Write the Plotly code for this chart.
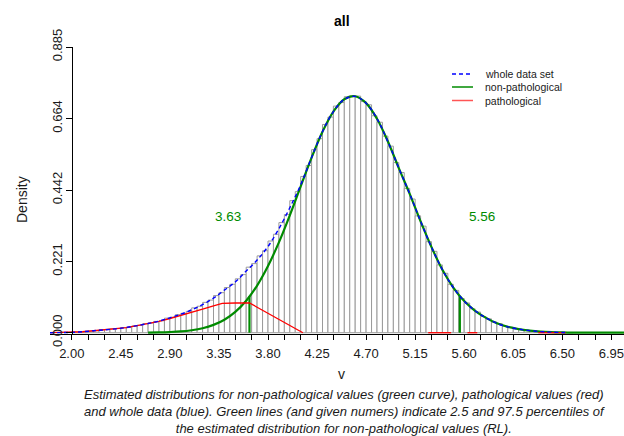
import plotly.graph_objects as go

# ---------------- data ----------------
# histogram (density per 0.05-wide bin, first bin starts at 2.00)
hist_start = 2.0
hist_bin_width = 0.05
hist_density = [
    0.002, 0.002, 0.004, 0.005, 0.006, 0.009, 0.010, 0.012, 0.013, 0.016,
    0.017, 0.021, 0.023, 0.028, 0.030, 0.035, 0.037, 0.045, 0.048, 0.056,
    0.060, 0.066, 0.077, 0.082, 0.094, 0.101, 0.115, 0.124, 0.140, 0.150,
    0.167, 0.180, 0.203, 0.214, 0.238, 0.254, 0.284, 0.305, 0.341, 0.366,
    0.409, 0.437, 0.484, 0.518, 0.567, 0.601, 0.645, 0.668, 0.702, 0.713,
    0.731, 0.734, 0.733, 0.716, 0.706, 0.672, 0.652, 0.609, 0.578, 0.527,
    0.496, 0.447, 0.414, 0.362, 0.330, 0.282, 0.252, 0.210, 0.184, 0.150,
    0.131, 0.106, 0.092, 0.074, 0.064, 0.050, 0.043, 0.033, 0.028, 0.020,
    0.017, 0.013, 0.010, 0.008, 0.006, 0.004, 0.003, 0.002, 0.0015, 0.001,
    0.0007, 0.0004,
]

# whole data set (blue dashed)
whole_x = [1.8, 1.9, 2.0, 2.1, 2.2, 2.3, 2.4, 2.5, 2.6, 2.7, 2.8, 2.9, 3.0, 3.1, 3.2,
           3.3, 3.4, 3.5, 3.6, 3.7, 3.8, 3.9, 4.0, 4.1, 4.2, 4.3, 4.4, 4.5, 4.6, 4.7,
           4.8, 4.9, 5.0, 5.1, 5.2, 5.3, 5.4, 5.5, 5.6, 5.7, 5.8, 5.9, 6.0, 6.1, 6.2,
           6.3, 6.4, 6.5, 6.55]
whole_y = [0.0, 0.0003, 0.001, 0.003, 0.006, 0.009, 0.012, 0.016, 0.022, 0.0285, 0.036,
           0.046, 0.057, 0.071, 0.087, 0.107, 0.132, 0.157, 0.191, 0.225, 0.267, 0.322,
           0.387, 0.458, 0.543, 0.623, 0.685, 0.723, 0.732, 0.711, 0.663, 0.592, 0.510,
           0.430, 0.345, 0.265, 0.195, 0.140, 0.098, 0.068, 0.046, 0.029, 0.018, 0.011,
           0.0065, 0.0035, 0.0018, 0.0008, 0.0005]

# non-pathological (green)
nonpath_x = [2.7, 2.8, 2.9, 3.0, 3.1, 3.2, 3.3, 3.4, 3.5, 3.6, 3.7, 3.8, 3.9, 4.0, 4.1,
             4.2, 4.3, 4.4, 4.5, 4.6, 4.7, 4.8, 4.9, 5.0, 5.1, 5.2, 5.3, 5.4, 5.5, 5.6,
             5.7, 5.8, 5.9, 6.0, 6.1, 6.2, 6.3, 6.4, 6.5, 6.6, 6.7, 6.8, 6.9, 7.0, 7.1]
nonpath_y = [0.0005, 0.0010, 0.0021, 0.0040, 0.0077, 0.0139, 0.0242, 0.0403, 0.0646,
             0.0992, 0.1461, 0.2065, 0.2798, 0.3637, 0.4536, 0.5425, 0.6228, 0.6851,
             0.7233, 0.7324, 0.7113, 0.6627, 0.5923, 0.510, 0.430, 0.345, 0.265, 0.195,
             0.140, 0.098, 0.068, 0.046, 0.029, 0.018, 0.011, 0.0065, 0.0035, 0.0018,
             0.0008, 0.0003, 0.0001, 0, 0, 0, 0]

# pathological (red); gaps where it is not drawn
path_x = [1.8, 1.9, 2.0, 2.1, 2.2, 2.3, 2.4, 2.5, 2.6, 2.7, 2.8, 2.9, 3.0, 3.1, 3.2, 3.3,
          3.38, 3.5, 3.63, 3.7, 3.8, 3.9, 4.0, 4.1, 4.12, None, 5.27, 5.48, None,
          5.63, 5.72, None, 6.28, 6.53]
path_y = [0, 0.0003, 0.001, 0.003, 0.006, 0.009, 0.012, 0.016, 0.022, 0.028, 0.035, 0.044,
          0.053, 0.063, 0.073, 0.083, 0.091, 0.092, 0.092, 0.079, 0.060, 0.042, 0.023,
          0.004, 0, None, 0, 0, None, 0, 0, None, 0, 0]

# reference limits (2.5 / 97.5 percentiles) and the curve height there
rl_values = [3.63, 5.56]
rl_heights = [0.113, 0.113]
rl_labels = ["3.63", "5.56"]

y_tick_vals = [0.0, 0.221, 0.442, 0.664, 0.885]
y_tick_text = ["0.000", "0.221", "0.442", "0.664", "0.885"]
x_tick_labels = ["2.00", "2.45", "2.90", "3.35", "3.80", "4.25", "4.70",
                 "5.15", "5.60", "6.05", "6.50", "6.95"]

caption_lines = [
    "Estimated distributions for non-pathological values (green curve), pathological values (red)",
    "and whole data (blue). Green lines (and given numers) indicate 2.5 and 97.5 percentiles of",
    "the estimated distribution for non-pathological values (RL).",
]

# ---------------- styling ----------------
GREEN = "#008B00"
BLUE = "#0000FF"
RED = "#FF0000"
FONT = "Liberation Sans, Arial, sans-serif"
TXT = "#1a1a1a"

X0, X1 = 1.8, 7.066
Y0, Y1 = -0.004, 0.885

W, H = 624, 436
L, R, T, B = 50, 0, 47, 102
pw, ph = W - L - R, H - T - B


def px(page_x):
    return (page_x - L) / pw


def py(page_y):
    return (H - B - page_y) / ph


fig = go.Figure()

centers = [hist_start + hist_bin_width * (i + 0.5) for i in range(len(hist_density))]
fig.add_trace(go.Bar(x=centers, y=hist_density, width=hist_bin_width,
                     marker=dict(color="white", line=dict(color="#9a9a9a", width=1)),
                     hoverinfo="skip"))

fig.add_trace(go.Scatter(x=nonpath_x, y=nonpath_y, mode="lines",
                         line=dict(color=GREEN, width=2.2, shape="spline")))
for v, h in zip(rl_values, rl_heights):
    fig.add_trace(go.Scatter(x=[v, v], y=[0, h], mode="lines",
                             line=dict(color=GREEN, width=2.2)))
fig.add_trace(go.Scatter(x=path_x, y=path_y, mode="lines",
                         line=dict(color=RED, width=1.3)))
fig.add_trace(go.Scatter(x=whole_x, y=whole_y, mode="lines",
                         line=dict(color=BLUE, width=1.4, dash="4px,3px", shape="spline")))

# x ticks every 0.15, labelled every 0.45
x_label_vals = [float(s) for s in x_tick_labels]
x_tick_vals, x_tick_text = [], []
for i, lv in enumerate(x_label_vals):
    x_tick_vals.append(lv)
    x_tick_text.append(x_tick_labels[i])
    if i < len(x_label_vals) - 1:
        for k in (1, 2):
            x_tick_vals.append(lv + 0.15 * k)
            x_tick_text.append("")

fig.update_xaxes(range=[X0, X1], showgrid=False, zeroline=False, showline=True,
                 linecolor="black", linewidth=1, ticks="outside", ticklen=5,
                 tickcolor="black", tickvals=x_tick_vals, ticktext=x_tick_text,
                 tickfont=dict(size=13, color=TXT), ticklabelstandoff=2,
                 ticklabeloverflow="allow")
fig.update_yaxes(range=[Y0, Y1], showgrid=False, zeroline=False, showline=True,
                 linecolor="black", linewidth=1, ticks="outside", ticklen=6,
                 tickcolor="black", tickvals=y_tick_vals, ticktext=y_tick_text,
                 tickangle=-90, tickfont=dict(size=13, color=TXT),
                 ticklabelstandoff=-1, ticklabeloverflow="allow",
                 anchor="free", position=(2.0 - X0) / (X1 - X0))

ann = []
# labels of reference limits
offsets = [-0.2, 0.2]
for v, lab, off in zip(rl_values, rl_labels, offsets):
    ann.append(dict(x=v + off, y=0.359, xref="x", yref="y", text=lab, showarrow=False,
                    xanchor="center", yanchor="middle",
                    font=dict(size=13.5, color=GREEN, family=FONT)))

ann.append(dict(x=px(342), y=py(21), xref="paper", yref="paper", text="<b>all</b>",
                xanchor="center", yanchor="middle", showarrow=False,
                font=dict(size=14, color="black", family=FONT)))
ann.append(dict(x=px(22), y=py(200), xref="paper", yref="paper", text="Density",
                textangle=-90, xanchor="center", yanchor="middle", showarrow=False,
                font=dict(size=14, color=TXT, family=FONT)))
ann.append(dict(x=px(341), y=py(374), xref="paper", yref="paper", text="v",
                xanchor="center", yanchor="middle", showarrow=False,
                font=dict(size=14, color=TXT, family=FONT)))
ann.append(dict(x=px(344), y=py(411), xref="paper", yref="paper",
                text="<br>".join("<i>" + s + "</i>" for s in caption_lines),
                xanchor="center", yanchor="middle", align="center",
                showarrow=False, font=dict(size=13, color=TXT, family=FONT)))

# manual legend
legend_items = [("whole data set", BLUE, "4px,3px", 74),
                ("non-pathological", GREEN, "solid", 87),
                ("pathological", "#ff5555", "solid", 100.5)]
shapes = []
for name, col, dash, yy in legend_items:
    shapes.append(dict(type="line", xref="paper", yref="paper",
                       x0=px(452), x1=px(473), y0=py(yy), y1=py(yy),
                       line=dict(color=col, width=1.5, dash=dash)))
    ann.append(dict(x=px(483), y=py(yy), xref="paper", yref="paper", text=name,
                    xanchor="left", yanchor="middle", showarrow=False,
                    font=dict(size=10.5, color=TXT, family=FONT)))

fig.update_layout(width=W, height=H, margin=dict(l=L, r=R, t=T, b=B),
                  plot_bgcolor="white", paper_bgcolor="white", showlegend=False,
                  font=dict(family=FONT, color="black"),
                  annotations=ann, shapes=shapes, bargap=0)

# remove the browser's default 8px page margin so the figure fills the window
fig.write_html("out.html",
               config={"displayModeBar": False, "staticPlot": True},
               post_script="document.body.style.margin='0';document.body.style.overflow='hidden';")
